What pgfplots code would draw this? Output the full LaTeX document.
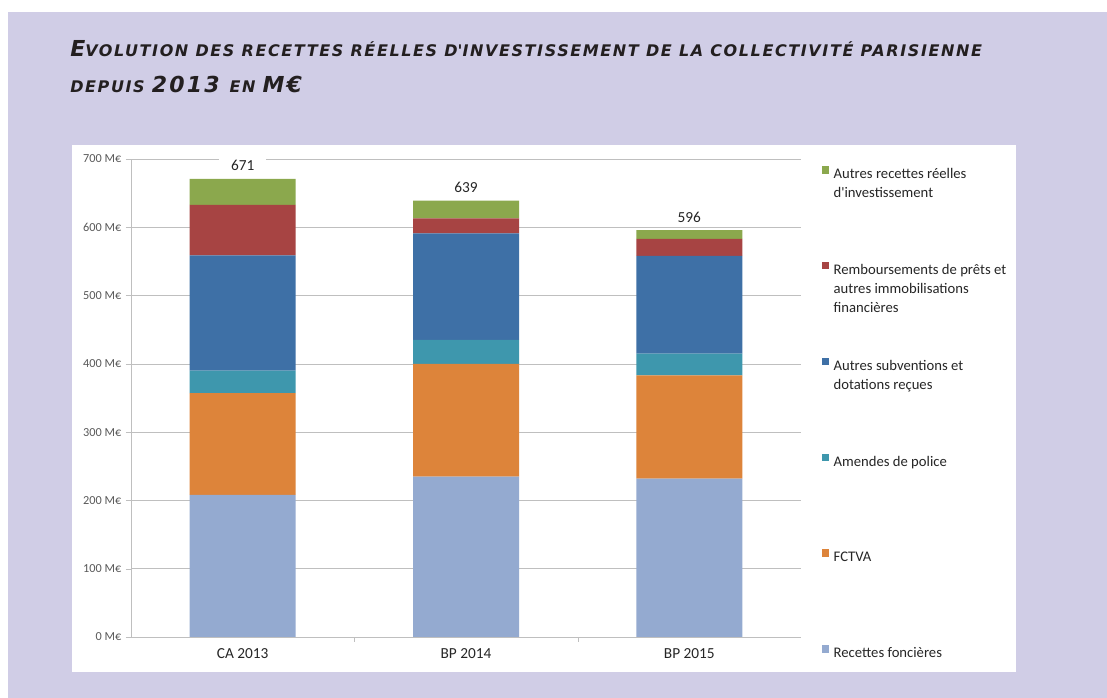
\documentclass[border=0pt]{standalone}
\usepackage{pgfplots}
\pgfplotsset{compat=1.18}
\usepackage{fontspec}
\setmainfont{Carlito}
\newfontfamily\titlefont[LetterSpace=10]{DejaVu Sans}

\definecolor{fond}{RGB}{208,205,230}
\definecolor{titre}{RGB}{35,31,32}
\definecolor{grille}{RGB}{191,191,191}
\definecolor{texte}{RGB}{38,38,38}
\definecolor{texteaxe}{RGB}{89,89,89}
\definecolor{cFonc}{RGB}{148,170,208}
\definecolor{cFctva}{RGB}{221,132,58}
\definecolor{cAmend}{RGB}{62,151,173}
\definecolor{cSubv}{RGB}{62,112,166}
\definecolor{cRemb}{RGB}{167,68,67}
\definecolor{cAutre}{RGB}{139,168,77}

% entree de legende sur plusieurs lignes
\newcommand{\entree}[1]{\parbox[t]{140pt}{\baselineskip=14.3pt\rule{0pt}{9pt}#1}}

\begin{document}
\begin{tikzpicture}[x=0.75pt,y=0.75pt]
% fond
\path[use as bounding box, fill=white] (0,0) rectangle (1107,698);
\fill[fond] (8,0) rectangle (1107,686);
\fill[white] (72,26) rectangle (1016,553);

% titre
\node[anchor=base west, inner sep=0pt, text=titre] at (70,641)
  {\titlefont\bfseries\itshape\fontsize{16.5}{17}\selectfont E\fontsize{12}{13}\selectfont VOLUTION DES RECETTES RÉELLES D\textquotesingle INVESTISSEMENT DE LA COLLECTIVITÉ PARISIENNE};
\node[anchor=base west, inner sep=0pt, text=titre] at (70,605)
  {\titlefont\bfseries\itshape\fontsize{12}{13}\selectfont DEPUIS \fontsize{16.5}{17}\selectfont 2013 \fontsize{12}{13}\selectfont EN \fontsize{16.5}{17}\selectfont M€};

\begin{axis}[
  at={(98.25pt,45.75pt)}, anchor=south west,
  scale only axis, width=502.5pt, height=358.5pt,
  ybar stacked, bar width=79.5pt,
  xmin=-0.5, xmax=2.5, ymin=0, ymax=700,
  axis x line*=bottom, axis y line*=left,
  axis line style={grille},
  tick align=outside, major tick length=3.75pt,
  /pgf/number format/assume math mode=true,
  xtick={0,1,2}, xticklabels={CA 2013, BP 2014, BP 2015},
  x tick label style={font=\fontsize{11.5}{13}\selectfont, text=texte, yshift=-1.5pt},
  xtick style={draw=none},
  extra x ticks={0.5,1.5}, extra x tick labels={},
  extra x tick style={xtick style={draw=grille}},
  ytick={0,100,...,700},
  yticklabels={0 M€,100 M€,200 M€,300 M€,400 M€,500 M€,600 M€,700 M€},
  y tick label style={font=\fontsize{9.2}{10}\selectfont, text=texteaxe},
  ytick style={grille},
  ymajorgrids, grid style={grille},
  legend style={at={(axis description cs:1.031,0.985)}, anchor=north west,
    draw=none, fill=none, inner sep=0pt, outer sep=0pt, row sep=61pt,
    column sep=3.3pt, font=\fontsize{11}{14.3}\selectfont, text=texte,
    nodes={inner sep=0pt}},
  legend cell align=left,
  reverse legend,
  legend image code/.code={\fill[#1] (0pt,0pt) rectangle (5.6pt,5.6pt);},
]
\addplot[fill=cFonc, draw=none] coordinates {(0,208) (1,235) (2,232)};
\addlegendentry{\entree{Recettes foncières}}
\addplot[fill=cFctva, draw=none] coordinates {(0,149) (1,165) (2,151)};
\addlegendentry{\entree{FCTVA}}
\addplot[fill=cAmend, draw=none] coordinates {(0,33) (1,35) (2,32)};
\addlegendentry{\entree{Amendes de police}}
\addplot[fill=cSubv, draw=none] coordinates {(0,169) (1,156) (2,143)};
\addlegendentry{\entree{Autres subventions et\\dotations reçues}}
\addplot[fill=cRemb, draw=none] coordinates {(0,74) (1,22) (2,25)};
\addlegendentry{\entree{Remboursements de prêts et\\autres immobilisations\\financières}}
% serie du haut : total de la barre en meta, etiquette remontee au sommet
\addplot[fill=cAutre, draw=none, point meta=explicit,
  visualization depends on={rawy \as \segy},
  nodes near coords,
  every node near coord/.append style={anchor=base,
    yshift={(6+0.25607*\segy)*1pt}, fill=white,
    inner xsep=9pt, inner ysep=3pt, font=\fontsize{11.5}{13}\selectfont, text=texte}]
  coordinates {(0,38) [671] (1,26) [639] (2,13) [596]};
\addlegendentry{\entree{Autres recettes réelles\\d\textquotesingle investissement}}
\end{axis}
\end{tikzpicture}
\end{document}
